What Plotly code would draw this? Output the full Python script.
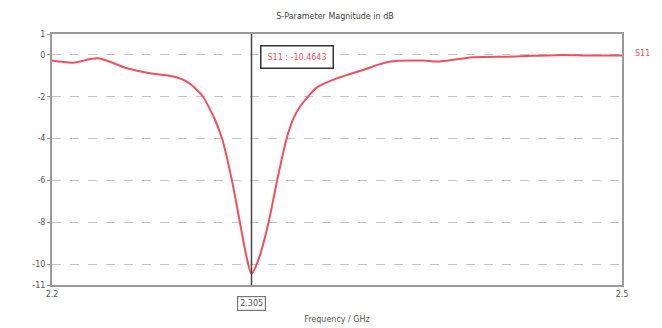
import plotly.graph_objects as go

freq_ghz = [2.2000, 2.2111, 2.2242, 2.2395, 2.2516, 2.2621, 2.2689, 2.2730, 2.2763,
            2.2795, 2.2820, 2.2858, 2.2895, 2.2947, 2.2989, 2.3025, 2.3050,
            2.3090, 2.3140, 2.3185, 2.3235, 2.3270, 2.3305, 2.3342, 2.3395,
            2.3500, 2.3637, 2.3779, 2.3953, 2.4026, 2.4216, 2.4426, 2.4689,
            2.4816, 2.5000]
s11_db = [-0.27, -0.37, -0.16, -0.64, -0.88, -1.00, -1.18, -1.40, -1.68,
          -2.00, -2.40, -3.10, -4.00, -6.00, -8.00, -9.70, -10.46,
          -9.70, -8.00, -6.00, -4.00, -3.05, -2.48, -2.05, -1.55,
          -1.12, -0.72, -0.32, -0.27, -0.32, -0.11, -0.08, 0.00,
          -0.03, -0.03]

marker_freq = 2.305
marker_label = "2.305"
marker_text = "S11 : -10.4643"
trace_name = "S11"

y_ticks = [1, 0, -2, -4, -6, -8, -10, -11]
y_tick_text = ["1", "0", "-2", "-4", "-6", "-8", "-10", "-11"]
x_ticks = [2.2, 2.5]
x_tick_text = ["2.2", "2.5"]

red = "#f0505c"

fig = go.Figure()
fig.add_trace(go.Scatter(x=freq_ghz, y=s11_db, mode="lines", name=trace_name,
                         line=dict(color=red, width=2, shape="spline", smoothing=0.8),
                         showlegend=False))

fig.add_shape(type="line", x0=marker_freq, x1=marker_freq, y0=-11, y1=1,
              xref="x", yref="y", line=dict(color="#444444", width=1.5))

fig.add_annotation(x=marker_freq, y=-0.1, xref="x", yref="y", text=marker_text,
                   showarrow=False, xanchor="left", yanchor="middle", xshift=8,
                   font=dict(family="DejaVu Sans", size=8, color=red),
                   bordercolor="#333333", borderwidth=1.5, borderpad=6, bgcolor="white")

fig.add_annotation(x=marker_freq, y=-0.045, xref="x", yref="paper", text=marker_label,
                   showarrow=False, xanchor="center", yanchor="top",
                   font=dict(family="DejaVu Sans", size=8, color="#555555"),
                   bordercolor="#777777", borderwidth=1.2, borderpad=2, bgcolor="white")

fig.add_annotation(x=1.02, y=0.08, xref="paper", yref="y", text=trace_name,
                   showarrow=False, xanchor="left", yanchor="middle",
                   font=dict(family="DejaVu Sans", size=8, color=red))

fig.update_layout(
    width=654, height=320,
    margin=dict(l=44, r=40, t=26, b=43),
    paper_bgcolor="white", plot_bgcolor="white",
    title=dict(text="S-Parameter Magnitude in dB", x=0.5, xanchor="center",
               y=1 - 8 / 320, yanchor="middle",
               font=dict(family="DejaVu Sans", size=8, color="#444444")),
    xaxis=dict(range=[2.2, 2.5], tickvals=x_ticks, ticktext=x_tick_text,
               showgrid=False, zeroline=False, showline=True, mirror=True,
               linecolor="#999999", linewidth=2, ticks="", automargin=False,
               tickfont=dict(family="DejaVu Sans", size=8, color="#555555"),
               title=dict(text="Frequency / GHz", standoff=19,
                          font=dict(family="DejaVu Sans", size=8, color="#555555"))),
    yaxis=dict(range=[-11, 1], tickvals=y_ticks, ticktext=y_tick_text,
               showgrid=True, gridcolor="#c4c4c4", griddash="dash", gridwidth=1,
               zeroline=False, showline=True, mirror=True,
               linecolor="#999999", linewidth=2, ticks="outside", ticklen=3,
               tickcolor="#999999",
               tickfont=dict(family="DejaVu Sans", size=8, color="#555555")),
)

fig.write_html("out.html")
